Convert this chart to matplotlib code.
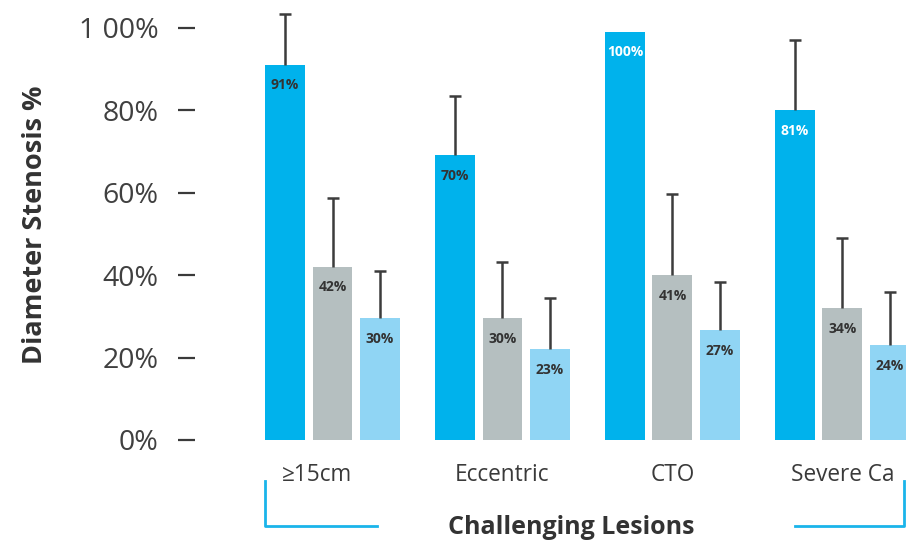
import matplotlib
matplotlib.use("Agg")
import matplotlib.pyplot as plt
import numpy as np

categories = ["≥15cm", "Eccentric", "CTO", "Severe Ca"]
series_blue = [91, 69, 99, 80]
series_gray = [42, 29.5, 40, 32]
series_light = [29.5, 22, 26.7, 23]
err_blue = [12.2, 14.3, 0, 16.9]
err_gray = [16.7, 13.7, 19.7, 17]
err_light = [11.5, 12.5, 11.6, 12.9]
labels_blue = ["91%", "70%", "100%", "81%"]
labels_gray = ["42%", "30%", "41%", "34%"]
labels_light = ["30%", "23%", "27%", "24%"]
yticks = [0, 20, 40, 60, 80, 100]
ytick_labels = ["0%", "20%", "40%", "60%", "80%", "1 00%"]

FONT = "Open Sans"
plt.rcParams["font.family"] = [FONT, "DejaVu Sans"]

W, H = 906, 547
fig = plt.figure(figsize=(W / 100, H / 100), dpi=100)
ax = fig.add_axes([195 / W, (H - 440) / H, (906 - 195) / W, (440 - 7) / H])

x = np.arange(len(categories))
off = 0.28
bw = 0.235
c_blue, c_gray, c_light = "#00b2ec", "#b5bfc0", "#90d5f4"
ecol = "#3c3c3c"

series = [
    (x - off, series_blue, err_blue, labels_blue, c_blue),
    (x, series_gray, err_gray, labels_gray, c_gray),
    (x + off, series_light, err_light, labels_light, c_light),
]
for xs, vals, errs, labs, col in series:
    ax.bar(xs, vals, width=bw, color=col, zorder=2)
    for xi, v, e in zip(xs, vals, errs):
        if e > 0:
            ax.vlines(xi, v, v + e, color=ecol, lw=1.8, zorder=3)
            ax.plot([xi], [v + e], marker="_", ms=9, mew=1.8, color=ecol, zorder=3)
    for xi, v, lab in zip(xs, vals, labs):
        tc = "white" if lab in ("100%", "81%") and col == c_blue else "#333333"
        ax.text(xi, v - 5, lab, ha="center", va="center", fontsize=10,
                fontweight="bold", color=tc, zorder=4)

ax.set_xlim(-0.809, 3.374)
ax.set_ylim(0, 105)
for s in ax.spines.values():
    s.set_visible(False)
ax.set_xticks([])
ax.set_yticks(yticks)
ax.set_yticklabels(ytick_labels, fontsize=20.5, color="#404040")
ax.tick_params(axis="y", direction="out", length=12.5, width=1.6,
               color="#3a3a3a", pad=14)

label_dx = [-0.09, 0, 0, 0]
for xi, cat, dx in zip(x, categories, label_dx):
    ax.text(xi + dx, -35 / 433, cat, transform=ax.get_xaxis_transform(),
            ha="center", va="center", fontsize=16.3, color="#3a3a3a", clip_on=False)

fig.text(35 / W, 1 - 225 / H, "Diameter Stenosis %", rotation=90, ha="center",
         va="center", fontsize=19.5, fontweight="bold", color="#333333")
fig.text(571 / W, 1 - 527 / H, "Challenging Lesions", ha="center", va="center",
         fontsize=18, fontweight="bold", color="#333333")

bc = "#1ab4ea"
fig.add_artist(plt.Line2D([265 / W, 265 / W, 377 / W], [1 - 481 / H, 1 - 526 / H, 1 - 526 / H],
                          color=bc, lw=2))
fig.add_artist(plt.Line2D([795 / W, 904 / W, 904 / W], [1 - 526 / H, 1 - 526 / H, 1 - 481 / H],
                          color=bc, lw=2))

fig.savefig("out.png", dpi=100)
